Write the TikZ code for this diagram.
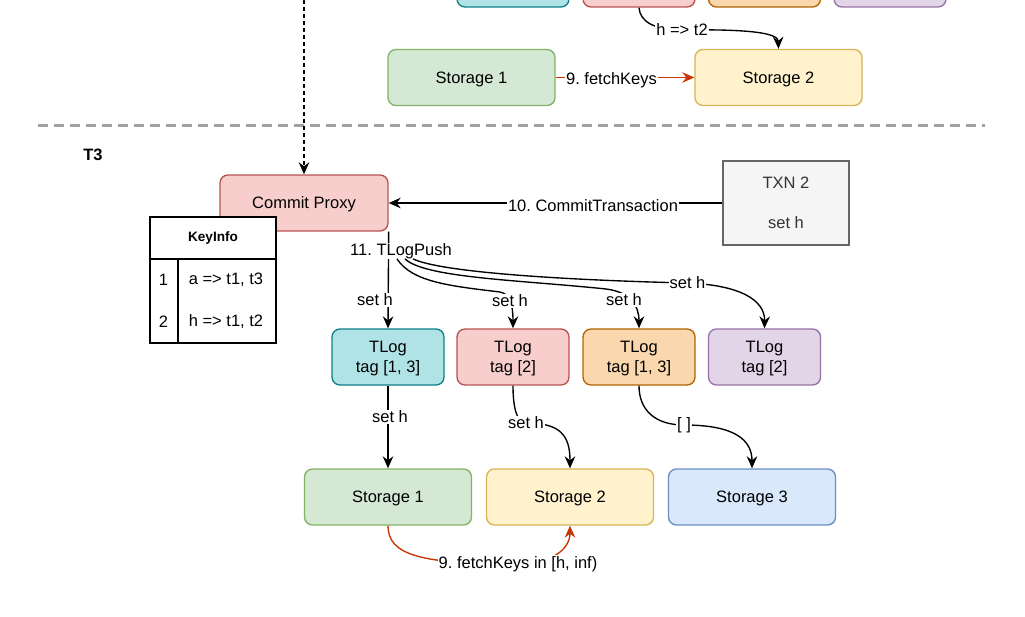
\documentclass[tikz,border=0pt]{standalone}
\usepackage{fontspec}
\setmainfont{Liberation Sans}
\usetikzlibrary{arrows.meta}
\definecolor{cyanF}{HTML}{B0E3E6}\definecolor{cyanD}{HTML}{0E8088}
\definecolor{pinkF}{HTML}{F8CECC}\definecolor{pinkD}{HTML}{B85450}
\definecolor{orF}{HTML}{FAD7AC}\definecolor{orD}{HTML}{B46504}
\definecolor{puF}{HTML}{E1D5E7}\definecolor{puD}{HTML}{9673A6}
\definecolor{grF}{HTML}{D5E8D4}\definecolor{grD}{HTML}{82B366}
\definecolor{yeF}{HTML}{FFF2CC}\definecolor{yeD}{HTML}{D6B656}
\definecolor{blF}{HTML}{DAE8FC}\definecolor{blD}{HTML}{6C8EBF}
\definecolor{txF}{HTML}{F5F5F5}\definecolor{txD}{HTML}{666666}\definecolor{txT}{HTML}{333333}
\definecolor{redE}{HTML}{C73500}
\definecolor{sepG}{HTML}{A0A0A0}
\frenchspacing
\begin{document}
\frenchspacing
\begin{tikzpicture}[x=1pt,y=-1pt,
  every node/.style={font=\fontsize{16.5}{20}\selectfont\frenchspacing},
  box/.style={rounded corners=8pt, line width=1.36pt, minimum height=56pt, inner sep=0pt, align=center, text depth=0pt},
  stor/.style={box, minimum width=167pt},
  tlog/.style={box, minimum width=112pt},
  lbl/.style={fill=white, inner sep=1pt},
  conn/.style={line width=1.36pt, -{Stealth[length=12pt,width=10.5pt,inset=4pt]}},
  plain/.style={line width=1.36pt}
]
\useasboundingbox (0,0) rectangle (1025,617);
\clip (0,0) rectangle (1025,617);
\fill[white] (0,0) rectangle (1025,617);

% top section
\node[tlog, fill=cyanF, draw=cyanD] (ta1) at (513,-21) {};
\node[tlog, fill=pinkF, draw=pinkD] (ta2) at (639,-21) {};
\node[tlog, fill=orF, draw=orD] (ta3) at (764.5,-21) {};
\node[tlog, fill=puF, draw=puD] (ta4) at (890,-21) {};
\node[stor, fill=grF, draw=grD] (sa) at (471.5,77.5) {Storage 1};
\node[stor, fill=yeF, draw=yeD] (sb) at (778.5,77.5) {Storage 2};

\draw[conn] (ta2.south) .. controls (640,22) and (655,30) .. (682,30) .. controls (750,29) and (778,33) .. (sb.north);
\node[lbl] (lht) at (682,30) {h => t2};
\draw[conn, draw=redE] (sa.east) -- (sb.west);
\node[lbl] (lfk) at (611.5,80) {9. fetchKeys};

% separator
\draw[sepG, line width=3pt, dash pattern=on 10pt off 6pt] (38,126) -- (985,126);

\node[font=\fontsize{16.5}{20}\selectfont\bfseries] (t3) at (93,155) {T3};

% commit proxy
\node[box, minimum width=168pt, fill=pinkF, draw=pinkD] (cp) at (304,203) {Commit Proxy};
\coordinate (dtop) at (304,0);
\draw[conn, dash pattern=on 4pt off 3pt] (dtop) -- (cp.north);

% TXN 2
\node[line width=1.36pt, minimum width=126pt, minimum height=84pt, inner sep=0pt, align=center, text depth=0pt, fill=txF, draw=txD, text=txT] (txn) at (786,203) {TXN 2\\[20pt]set h};
\draw[conn] (txn.west) -- (cp.east);
\node[lbl] (lct) at (593,206) {10. CommitTransaction};

% key info table
\node[draw, line width=1.36pt, fill=white, minimum width=126pt, minimum height=126pt, inner sep=0pt] (ki) at (213,280) {};
\draw[plain] (150,259) -- (276,259);
\draw[plain] (178,259) -- (178,343);
\node[font=\fontsize{13.6}{16}\selectfont\bfseries] (kih) at (213,238) {KeyInfo};
\node (k1n) at (163.5,280) {1};
\node (k1t) at (226,280) {a => t1, t3};
\node (k2n) at (163.5,322) {2};
\node (k2t) at (226,322) {h => t1, t2};

% TLogs
\node[tlog, fill=cyanF, draw=cyanD] (tl1) at (388,357) {TLog\\tag [1, 3]};
\node[tlog, fill=pinkF, draw=pinkD] (tl2) at (513,357) {TLog\\tag [2]};
\node[tlog, fill=orF, draw=orD] (tl3) at (639,357) {TLog\\tag [1, 3]};
\node[tlog, fill=puF, draw=puD] (tl4) at (764.5,357) {TLog\\tag [2]};

% storages
\node[stor, fill=grF, draw=grD] (s1) at (388,497) {Storage 1};
\node[stor, fill=yeF, draw=yeD] (s2) at (570,497) {Storage 2};
\node[stor, fill=blF, draw=blD] (s3) at (752,497) {Storage 3};

% TLog push
\draw[conn] (cp.south east) -- (tl1.north);
\node[lbl, inner sep=0pt] (tpush) at (401,251) {11. TLogPush};
\draw[conn] ([xshift=-4pt]tpush.south) .. controls (412,282) and (450,286) .. (500,292) .. controls (510,294) and (513,305) .. (tl2.north);
\draw[conn] ([xshift=4pt]tpush.south) .. controls (425,278) and (520,280) .. (606,289) .. controls (630,292) and (639,305) .. (tl3.north);
\draw[conn] ([xshift=12pt]tpush.south) .. controls (440,272) and (560,280) .. (687,283) .. controls (740,285) and (765,300) .. (tl4.north);
\node[lbl] (ls1) at (375,300) {set h};
\node[lbl] (ls2) at (510,301) {set h};
\node[lbl] (ls3) at (624,300) {set h};
\node[lbl] (ls4) at (687.5,283) {set h};

% TLog -> storage
\draw[conn] (tl1.south) -- (s1.north);
\node[lbl] (lt1) at (390,417) {set h};
\draw[conn] (tl2.south) .. controls (513,405) and (516,423) .. (526,423) .. controls (560,423) and (570,435) .. (s2.north);
\node[lbl] (lt2) at (526,423) {set h};
\draw[conn] (tl3.south) .. controls (639,410) and (655,425) .. (684,425) .. controls (735,425) and (752,440) .. (s3.north);
\node[lbl] (lt3) at (684,425) {[ ]};

% fetch keys
\draw[conn, draw=redE] (s1.south) .. controls (388,555) and (420,564) .. (518,564) .. controls (550,564) and (570,550) .. (s2.south);
\node[lbl] (lfk2) at (518,564) {9. fetchKeys in [h, inf)};
\end{tikzpicture}
\end{document}
